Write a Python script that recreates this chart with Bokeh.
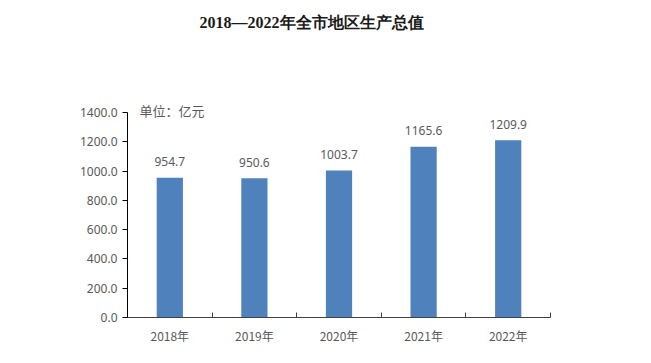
from bokeh.plotting import figure
from bokeh.models import (ColumnDataSource, FixedTicker, NumeralTickFormatter,
                          CustomJSTickFormatter, Range1d, Label, LabelSet)
from bokeh.core.properties import value
from bokeh.embed import file_html
from bokeh.resources import INLINE

years = ["2018年", "2019年", "2020年", "2021年", "2022年"]
values = [954.7, 950.6, 1003.7, 1165.6, 1209.9]
y_ticks = [0, 200, 400, 600, 800, 1000, 1200, 1400]
title_text = "2018—2022年全市地区生产总值"
unit_text = "单位：亿元"

xs = [i + 0.5 for i in range(len(years))]
src = ColumnDataSource(dict(x=xs, top=values, label=[f"{v:.1f}" for v in values]))

# frame spans full height so the title (an in-frame label) is not clipped;
# the y axis line is bounded to 0..1400
p = figure(width=643, height=355, output_backend="svg", toolbar_location=None,
           x_range=Range1d(0, len(years)), y_range=Range1d(0, 2165),
           min_border_left=127, min_border_right=93, min_border_top=0,
           min_border_bottom=38)
p.outline_line_color = None
p.grid.grid_line_color = None

p.add_layout(Label(x=72, y=295, x_units="screen", y_units="screen",
                   text=title_text, text_baseline="middle", text_align="left",
                   text_font="Liberation Serif", text_font_style="bold",
                   text_font_size="16px", text_color="#1a1a1a"))

p.vbar(x="x", top="top", width=0.31, source=src, fill_color="#4F81BD",
       line_color=None)

labels = LabelSet(x="x", y="top", text="label", source=src, text_align="center",
                  text_baseline="middle", y_offset=16,
                  text_font=value("Noto Sans"),
                  text_font_size=value("12px"), text_color=value("#595959"))
p.add_layout(labels)

p.add_layout(Label(x=0, y=1400, x_offset=12, y_offset=2, text=unit_text,
                   text_baseline="middle", text_font="Noto Sans CJK SC",
                   text_font_size="13px", text_color="#595959"))

# y axis
ya = p.yaxis[0]
ya.bounds = (0, 1400)
ya.ticker = FixedTicker(ticks=y_ticks)
ya.formatter = NumeralTickFormatter(format="0.0")
ya.axis_line_color = "black"
ya.major_tick_line_color = "black"
ya.major_tick_in = 0
ya.major_tick_out = 5
ya.minor_tick_line_color = None
ya.major_label_standoff = 5
ya.major_label_text_font = "Noto Sans"
ya.major_label_text_font_size = "12px"
ya.major_label_text_color = "#595959"

# x axis
xa = p.xaxis[0]
xa.ticker = FixedTicker(ticks=xs, minor_ticks=list(range(len(years) + 1)))
xa.formatter = CustomJSTickFormatter(args=dict(labels=years),
                                     code="return labels[Math.floor(tick)];")
xa.axis_line_color = "#404040"
xa.major_tick_line_color = None
xa.major_tick_in = 0
xa.major_tick_out = 0
xa.minor_tick_line_color = "#404040"
xa.minor_tick_in = 5
xa.minor_tick_out = 0
xa.major_label_standoff = 9
xa.major_label_text_font = "Noto Sans CJK SC"
xa.major_label_text_font_size = "12px"
xa.major_label_text_color = "#595959"

open("out.html", "w").write(file_html(p, INLINE))
